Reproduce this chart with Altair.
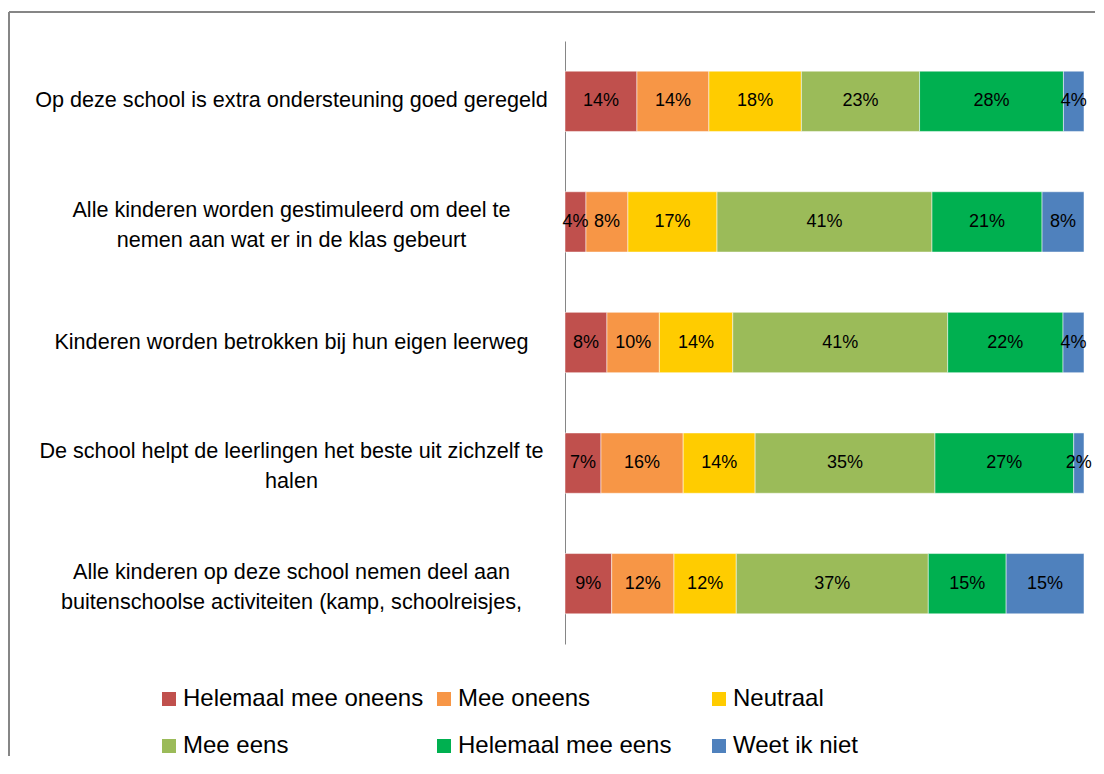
import altair as alt
import pandas as pd

questions = [
    "Op deze school is extra ondersteuning goed geregeld",
    "Alle kinderen worden gestimuleerd om deel te|nemen aan wat er in de klas gebeurt",
    "Kinderen worden betrokken bij hun eigen leerweg",
    "De school helpt de leerlingen het beste uit zichzelf te|halen",
    "Alle kinderen op deze school nemen deel aan|buitenschoolse activiteiten (kamp, schoolreisjes,",
]
categories = ["Helemaal mee oneens", "Mee oneens", "Neutraal",
              "Mee eens", "Helemaal mee eens", "Weet ik niet"]
colors = ["#C0504D", "#F79646", "#FFCC00", "#9BBB59", "#00B050", "#4F81BD"]

helemaal_mee_oneens = [14, 4, 8, 7, 9]
mee_oneens = [14, 8, 10, 16, 12]
neutraal = [18, 17, 14, 14, 12]
mee_eens = [23, 41, 41, 35, 37]
helemaal_mee_eens = [28, 21, 22, 27, 15]
weet_ik_niet = [4, 8, 4, 2, 15]

series = [helemaal_mee_oneens, mee_oneens, neutraal,
          mee_eens, helemaal_mee_eens, weet_ik_niet]

rows = []
for ci, (cat, vals) in enumerate(zip(categories, series)):
    for q, v in zip(questions, vals):
        rows.append({"question": q, "category": cat, "order": ci, "value": v})
df = pd.DataFrame(rows)

FONT = "Liberation Sans"

base = alt.Chart(df).transform_stack(
    stack="value",
    groupby=["question"],
    as_=["v0", "v1"],
    offset="normalize",
    sort=[alt.SortField(field="order", order="ascending")],
).transform_calculate(
    mid="(datum.v0 + datum.v1) / 2",
    label="datum.value + '%'",
)

y_enc = alt.Y(
    "question:N",
    sort=questions,
    scale=alt.Scale(paddingInner=0.5, paddingOuter=0.25),
    axis=alt.Axis(
        title=None,
        labelExpr="split(datum.label, '|')",
        labelAlign="center",
        labelBaseline="middle",
        labelPadding=274,
        labelFontSize=21.6,
        labelFont=FONT,
        labelColor="black",
        labelLimit=800,
        labelLineHeight=30,
        labelOffset={"condition": {"test": "indexof(datum.label, '|') >= 0", "value": -11}, "value": 0},
        ticks=False,
        grid=False,
        domainColor="#868686",
        domainWidth=1,
    ),
)

bars = base.mark_bar(stroke="white", strokeWidth=0.5).encode(
    x=alt.X("v0:Q", scale=alt.Scale(domain=[0, 1], nice=False, zero=False), axis=None),
    x2="v1:Q",
    y=y_enc,
    color=alt.Color(
        "category:N",
        scale=alt.Scale(domain=categories, range=colors),
        legend=alt.Legend(
            title=None,
            orient="none",
            legendX=-408,
            legendY=646,
            columns=3,
            direction="horizontal",
            symbolType="square",
            symbolSize=196,
            symbolStrokeWidth=0,
            labelFontSize=24,
            labelFont=FONT,
            labelColor="black",
            labelOffset=2,
            labelLimit=400,
            columnPadding=8,
            rowPadding=23,
            gridAlign="all",
            padding=0,
        ),
    ),
    order=alt.Order("order:Q"),
)

text = base.mark_text(font=FONT, fontSize=18, color="black", baseline="middle", align="center").encode(
    x=alt.X("mid:Q", scale=alt.Scale(domain=[0, 1], nice=False, zero=False), axis=None),
    y=alt.Y("question:N", sort=questions),
    text="label:N",
)

frame_data = pd.DataFrame({"k": [0]})
frame_top = alt.Chart(frame_data).mark_rule(color="#868686", strokeWidth=2).encode(
    x=alt.value(-556), x2=alt.value(530), y=alt.value(-29)
)
frame_left = alt.Chart(frame_data).mark_rule(color="#868686", strokeWidth=2).encode(
    x=alt.value(-556), y=alt.value(-29), y2=alt.value(715)
)

chart = alt.layer(frame_top, frame_left, bars, text).properties(
    width=519,
    height=603,
    padding={"left": 0, "top": 3, "right": 0, "bottom": 0},
).configure(font=FONT).configure_view(stroke=None)

chart.save("out.html", embed_options={"renderer": "svg", "actions": False})
